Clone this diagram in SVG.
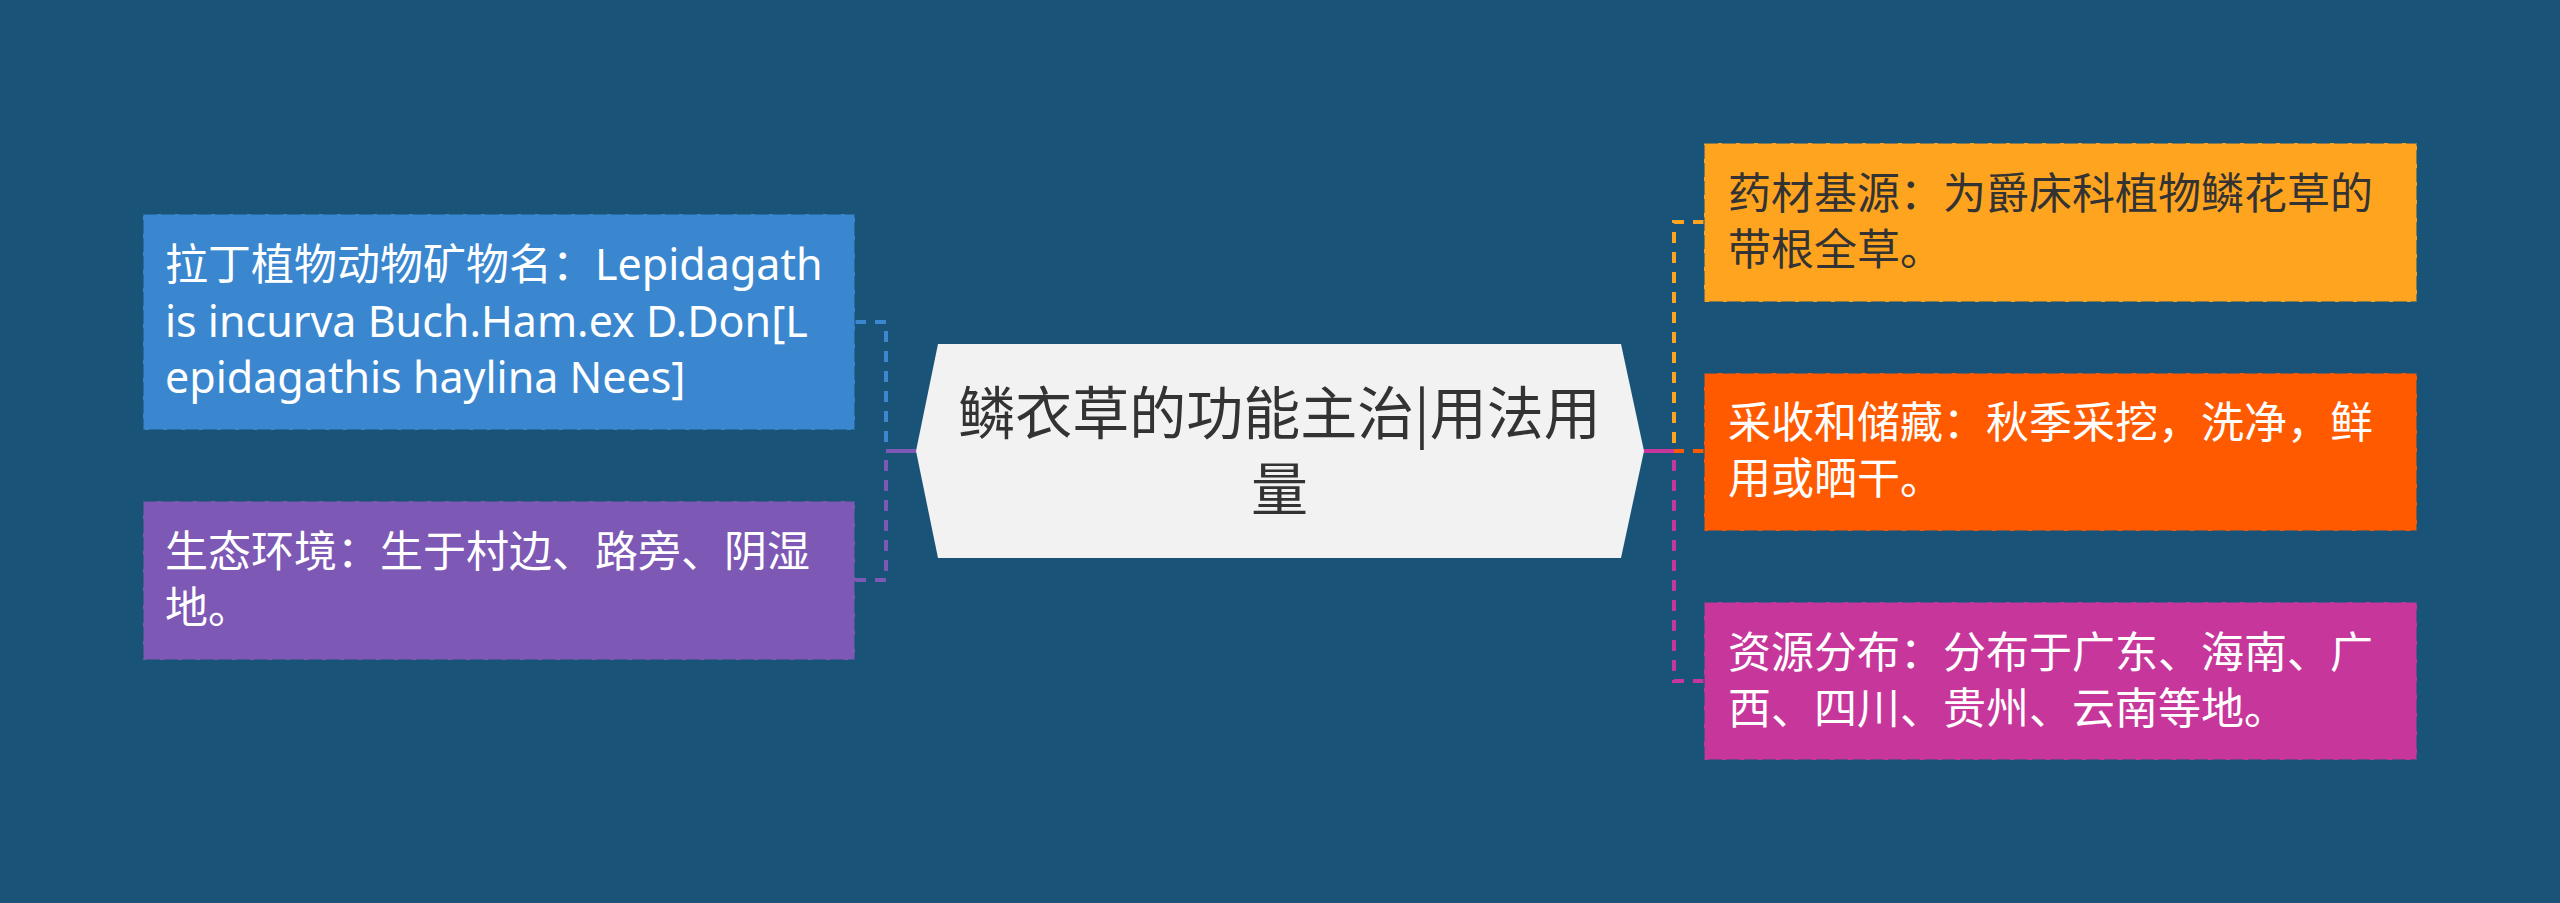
<svg xmlns="http://www.w3.org/2000/svg" width="2560" height="903" viewBox="0 0 2560 903">
  <style>
    .bg { fill: #1a5378; }
    .box { stroke: #1a5378; stroke-opacity: 0.55; stroke-width: 2; stroke-dasharray: 14 4; }
    .txt { font-family: "Noto Sans", "Noto Sans CJK SC", sans-serif; font-size: 43px; }
    .ctxt { font-family: "Noto Sans CJK SC", sans-serif; font-size: 57px; fill: #333333; text-anchor: middle; }
    .conn { fill: none; stroke-width: 4; stroke-dasharray: 11 9; }
    .stub { fill: none; stroke-width: 4; }
  </style>
  <rect class="bg" x="0" y="0" width="2560" height="903"/>

  <g id="connectors">
    <path class="conn" stroke="#3a87d0" d="M855,322 H886 V451"/>
    <path class="conn" stroke="#7d58b4" d="M855,580 H886 V451"/>
    <path class="stub" stroke="#7d58b4" d="M886,451 H916"/>
    <path class="conn" stroke="#ffa41f" d="M1704,222 H1674 V451"/>
    <path class="conn" stroke="#ff5a00" d="M1704,451 H1674"/>
    <path class="conn" stroke="#c7379b" d="M1704,681 H1674 V451"/>
    <path class="stub" stroke="#c7379b" d="M1643,451 H1674"/>
  </g>

  <g id="center">
    <polygon fill="#f2f2f2" points="938,344 1621,344 1644,451 1621,558 938,558 916,451"/>
    <text class="ctxt"><tspan x="1279.5" y="434">鳞衣草的功能主治|用法用</tspan><tspan x="1279.5" y="510">量</tspan></text>
  </g>

  <g id="latin-name">
    <rect class="box" fill="#3a87d0" x="143" y="214" width="712" height="216"/>
    <text class="txt" fill="#ffffff"><tspan x="165" y="280">拉丁植物动物矿物名：Lepidagath</tspan><tspan x="165" y="337">is incurva Buch.Ham.ex D.Don[L</tspan><tspan x="165" y="393">epidagathis haylina Nees]</tspan></text>
  </g>

  <g id="habitat">
    <rect class="box" fill="#7d58b4" x="143" y="501" width="712" height="159"/>
    <text class="txt" fill="#ffffff"><tspan x="165" y="567">生态环境：生于村边、路旁、阴湿</tspan><tspan x="165" y="623">地。</tspan></text>
  </g>

  <g id="source">
    <rect class="box" fill="#ffa41f" x="1704" y="143" width="713" height="159"/>
    <text class="txt" fill="#333333"><tspan x="1728" y="209">药材基源：为爵床科植物鳞花草的</tspan><tspan x="1728" y="265">带根全草。</tspan></text>
  </g>

  <g id="harvest">
    <rect class="box" fill="#ff5a00" x="1704" y="373" width="713" height="158"/>
    <text class="txt" fill="#ffffff"><tspan x="1728" y="438">采收和储藏：秋季采挖，洗净，鲜</tspan><tspan x="1728" y="494">用或晒干。</tspan></text>
  </g>

  <g id="distribution">
    <rect class="box" fill="#c7379b" x="1704" y="602" width="713" height="158"/>
    <text class="txt" fill="#ffffff"><tspan x="1728" y="668">资源分布：分布于广东、海南、广</tspan><tspan x="1728" y="724">西、四川、贵州、云南等地。</tspan></text>
  </g>
</svg>
